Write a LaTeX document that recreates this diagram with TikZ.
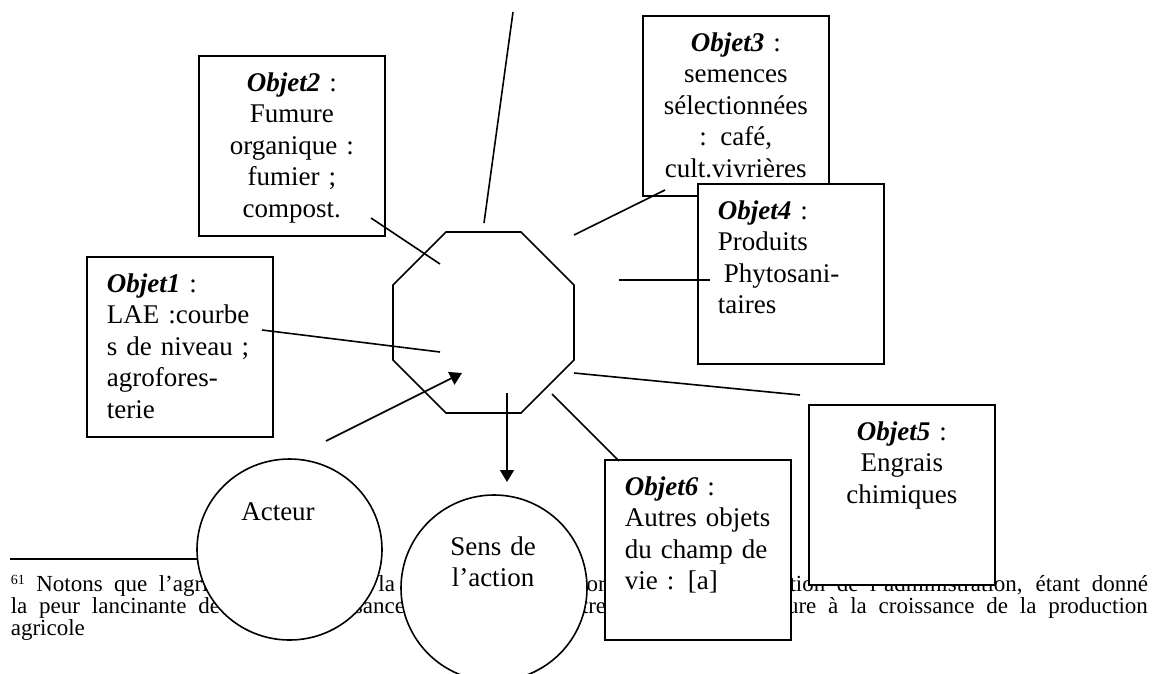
\documentclass[tikz,border=0pt]{standalone}
\usepackage{fontspec}
\setmainfont{Liberation Serif}
\usetikzlibrary{shapes.geometric,arrows.meta}
\newcommand{\boxfont}{\fontsize{27}{31.5}\selectfont}
\newcommand{\notefont}{\fontsize{23}{22}\selectfont}
\newcommand{\obj}[1]{\textbf{\textit{Objet#1}} :}

\begin{document}
\begin{tikzpicture}[x=1pt,y=-1pt,line width=1.6pt,
	objet/.style={draw,fill=white,anchor=north west,inner xsep=20pt,inner ysep=0pt,
		text width=146pt,text height=35.5pt,text depth=144.5pt,font=\boxfont},
	rond/.style={ellipse,draw,fill=white,inner sep=0pt},
	fleche/.style={-{Triangle[length=12pt,width=14pt]}},
	note/.style={anchor=base west,inner sep=0pt,font=\notefont}]
%		\draw[lightgray] (0,0) grid[step=50] (1153,673);
		\useasboundingbox (0,0) rectangle (1153,673);
		% footnote, under everything
		\draw[line width=1.4pt] (10,559) -- (250,559);
		\node[note] (note1) at (10,591) {\makebox[1137pt][s]{\raisebox{7pt}{\fontsize{14}{14}\selectfont 61} Notons que l’agriculture constitue la priorité absolue d’orientation et de gestion de l’administration, étant donné}};
		\node[note] (note2) at (10,613) {\makebox[1137pt][s]{la peur lancinante de voir la croissance démographique être nettement supérieure à la croissance de la production}};
		\node[note] (note3) at (10,635) {agricole};
		% champ de vie
		\coordinate (haut1) at (513,12);
		\coordinate (haut2) at (484,223);
		\draw (haut1) -- (haut2);
		\node[draw,regular polygon,regular polygon sides=8,minimum size=196pt,inner sep=0pt] (champ) at (483.5,322.5) {};
		% objets
		\node[objet,align=left] (objet1) at (86,256) {\obj{1}\\LAE :courbe\\s de niveau ;\\agrofores-\\terie};
		\node[objet,align=center] (objet2) at (198,55) {\obj{2}\\Fumure\\organique :\\fumier ;\\compost.};
		\node[objet,align=center] (objet3) at (642,15) {\obj{3}\\semences\\sélectionnées\\: café,\\cult.vivrières};
		\node[objet,align=left] (objet4) at (697,183) {\obj{4}\\Produits\\\hspace*{6pt}Phytosani-\\taires};
		\node[objet,align=center] (objet5) at (808,404) {\obj{5}\\Engrais\\chimiques};
		\node[objet,align=left] (objet6) at (604,459) {\obj{6}\\Autres objets\\du champ de\\vie : [a]};
		% acteur et sens
		\node[rond,minimum width=185pt,minimum height=181pt] (acteur) at (289.5,549.5) {};
		\node[anchor=base,font=\boxfont] (acteurlbl) at (278,520) {Acteur};
		\node[rond,minimum width=186pt,minimum height=186pt] (sens) at (494,588) {};
		\node[anchor=base,font=\boxfont,text width=150pt,align=center] (senslbl) at (493,555) {Sens de\\l’action};
		% liens
		\coordinate (o1) at (262,330);  \coordinate (c1) at (440,352);
		\coordinate (o2) at (371,218);  \coordinate (c2) at (440,264);
		\coordinate (o3) at (665,190);  \coordinate (c3) at (574,235);
		\coordinate (o4) at (710,280);  \coordinate (c4) at (619,280);
		\coordinate (o5) at (800,395);  \coordinate (c5) at (574,373);
		\coordinate (o6) at (619,461);  \coordinate (c6) at (552,394);
		\draw (o1) -- (c1);
		\draw (o2) -- (c2);
		\draw (o3) -- (c3);
		\draw (o4) -- (c4);
		\draw (o5) -- (c5);
		\draw (o6) -- (c6);
		\coordinate (depart) at (326,441);
		\coordinate (entree) at (462,373);
		\coordinate (sortie) at (507,393);
		\coordinate (versens) at (507,482);
		\draw[fleche] (depart) -- (entree);
		\draw[fleche] (sortie) -- (versens);
	\end{tikzpicture}
\end{document}
